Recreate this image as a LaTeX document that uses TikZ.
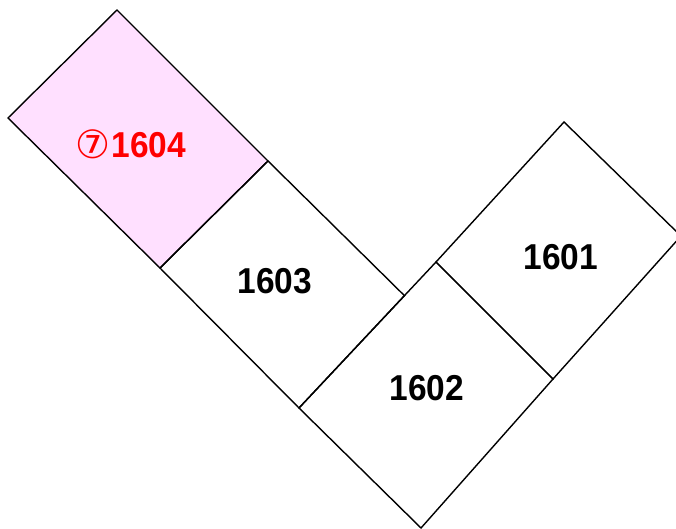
\documentclass[tikz,border=0pt]{standalone}
\usepackage{fontspec}
\setmainfont{Liberation Sans}[FakeStretch=0.93]
\newfontfamily\symfont{DejaVu Sans}
\usetikzlibrary{calc}
\definecolor{lotpink}{RGB}{255,224,255}
\definecolor{lotred}{RGB}{255,0,0}
\tikzset{
  lot/.style={draw=black, line width=1.4pt, line join=miter},
  lotlabel/.style={font=\fontsize{36}{38}\selectfont\bfseries, inner sep=0pt}
}
\begin{document}
\begin{tikzpicture}[x=1pt,y=-1pt]
\useasboundingbox (0,0) rectangle (676,529);
\clip (0,0) rectangle (676,529);
% vertices
\coordinate (a1) at (117,10);
\coordinate (a2) at (8,118);
\coordinate (a3) at (160,268);
\coordinate (a4) at (268,161);
\coordinate (b3) at (299,408);
\coordinate (c1) at (436,262);
\coordinate (b4) at ($(b3)!0.7696!(c1)$);
\coordinate (c3) at (553,379);
\coordinate (c4) at (421,528);
\coordinate (d1) at (564,122);
\coordinate (d2) at (681,236);
% lots
\fill[lotpink] (a1) -- (a2) -- (a3) -- (a4) -- cycle;
\draw[lot] (a1) -- (a2) -- (a3) -- (a4) -- cycle;
\draw[lot] (a4) -- (a3) -- (b3) -- (b4) -- cycle;
\draw[lot] (b3) -- (c1) -- (c3) -- (c4) -- cycle;
\draw[lot] (c1) -- (d1) -- (d2) -- (c3) -- cycle;
% labels
\node[lotlabel, text=lotred] (l1604) at (131,144) {{\symfont\fontsize{39}{40}\selectfont\mdseries\raisebox{-1pt}{⑦}}\kern1pt 1604};
\node[lotlabel] (l1603) at (275,281) {1603};
\node[lotlabel] (l1602) at (427,388) {1602};
\node[lotlabel] (l1601) at (561,257) {1601};
\end{tikzpicture}
\end{document}
